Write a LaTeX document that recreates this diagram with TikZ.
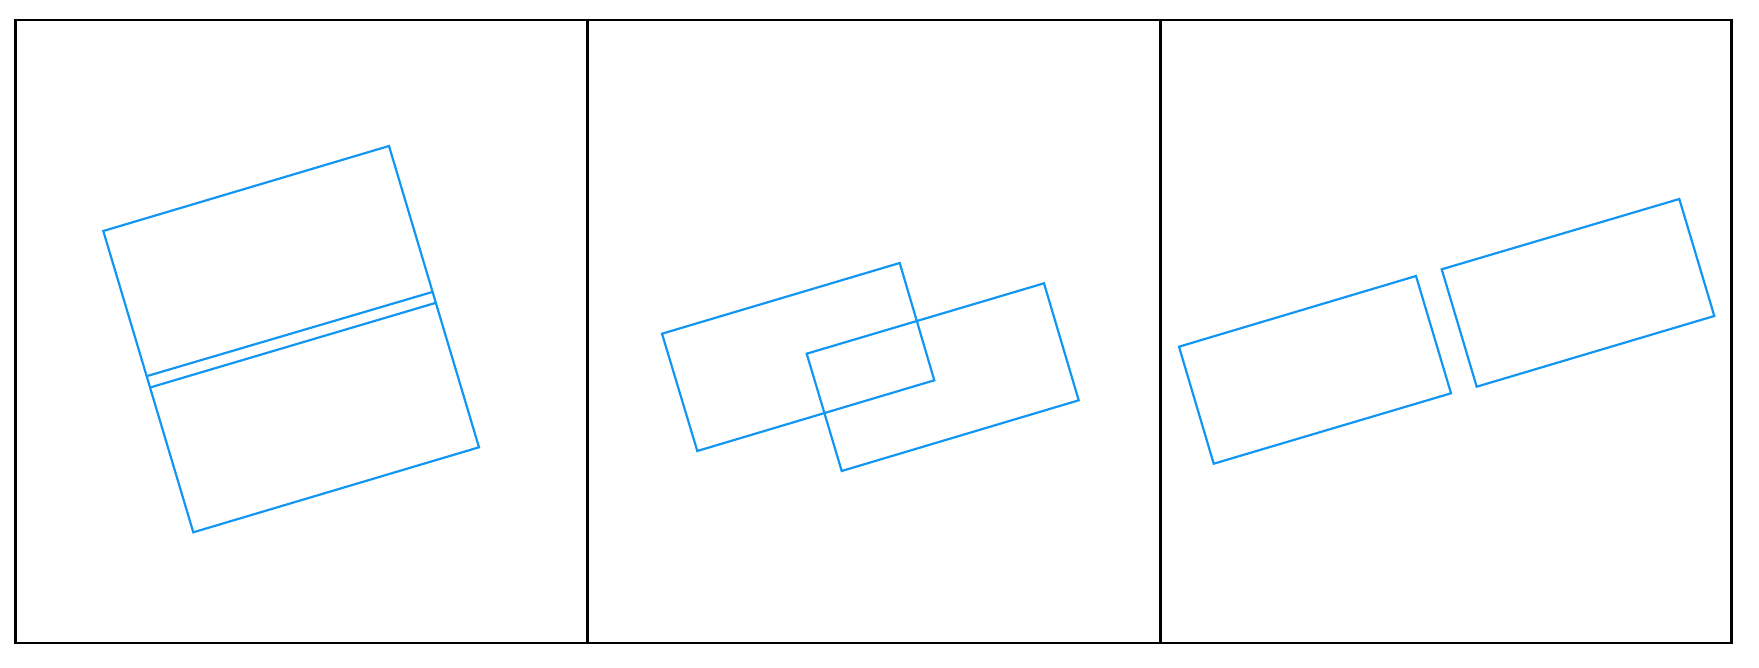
\documentclass[tikz,border=0pt]{standalone}
\definecolor{rblue}{RGB}{18,150,242}
\begin{document}
\begin{tikzpicture}[x=1pt,y=-1pt,
  frame/.style={draw=black,line width=2.6pt},
  divider/.style={draw=black,line width=3.0pt},
  rect/.style={draw=rblue,line width=2.2pt,line join=miter}]
\useasboundingbox (0,0) rectangle (1759,668);
% frame and panels
\draw[frame] (15.7,20) rectangle (1731.7,643);
\draw[divider] (587,20) -- (587,643);
\draw[divider] (1160,20) -- (1160,643);
% left panel: one rectangle with two close parallel lines across it
\coordinate (LA) at (103.3,231);
\coordinate (LB) at (389,146);
\coordinate (LC) at (479,447.3);
\coordinate (LD) at (193.3,532.3);
\draw[rect] (LA) -- (LB) -- (LC) -- (LD) -- cycle;
\draw[rect] (147.3,376) -- (432.3,292);
\draw[rect] (150.7,387.3) -- (435.3,303);
% middle panel: two overlapping rectangles
\draw[rect] (662,333.7) -- (899.7,263) -- (934.3,380.3) -- (697.3,451) -- cycle;
\draw[rect] (806.7,353.7) -- (1044,283.3) -- (1078.7,400.3) -- (841.7,471) -- cycle;
% right panel: two separated rectangles
\draw[rect] (1179,346.7) -- (1416,276) -- (1451,393.3) -- (1213.7,463.7) -- cycle;
\draw[rect] (1441.7,269.3) -- (1679.3,199) -- (1714.3,316) -- (1476.7,386.7) -- cycle;
\end{tikzpicture}
\end{document}
